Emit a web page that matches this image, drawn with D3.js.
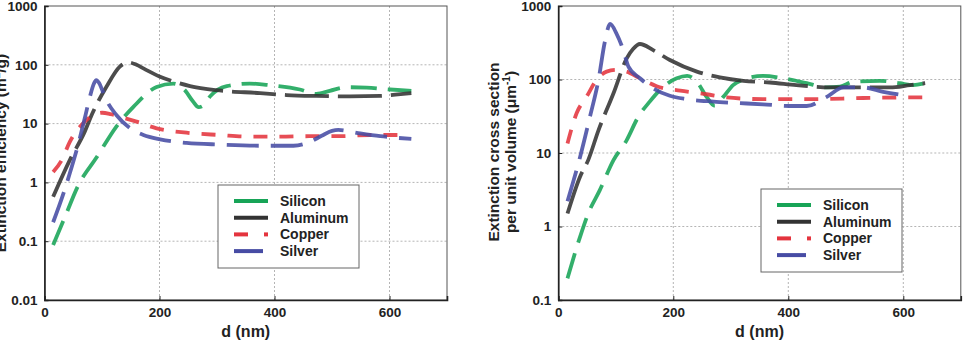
<!DOCTYPE html>
<html>
<head>
<meta charset="utf-8">
<script src="https://cdnjs.cloudflare.com/ajax/libs/d3/7.8.5/d3.min.js"></script>
<style>
body{margin:0;background:#fff;}
text{font-family:"Liberation Sans",Arial,sans-serif;font-weight:bold;fill:#222;}
</style>
</head>
<body>
<svg id="fig" width="964" height="342"></svg>
<script>
// series names and styles
var names = ["Silicon","Aluminum","Copper","Silver"];
var colors = ["#17a457","#333333","#e4343e","#474ca4"];
var dashes = ["26,11","44,9","14,12","32,12"];

var xTicks = [0,200,400,600];
var leftTicks = [0.01,0.1,1,10,100,1000];
var rightTicks = [0.1,1,10,100,1000];

// left panel: extinction efficiency (m2/g) vs d (nm)
var effSilicon = [[15,0.086],[35,0.25],[59,0.9],[91,2.7],[125,8.9],[155,19.4],[195,42],[224,48],[244,37],[258,24],[268,19],[278,21],[288,29],[317,43.5],[357,48],[392,45],[444,38],[473,32],[496,36],[525,41.5],[560,41],[601,38],[638,36]];
var effAluminum = [[15,0.57],[44,2.4],[70,7.3],[82,14],[108,42.6],[131,93],[146,110],[160,100],[172,87],[200,63],[224,52],[253,43.5],[299,37],[375,33],[421,30.6],[473,29.5],[531,29],[584,29.5],[610,31],[638,33]];
var effCopper = [[15,1.5],[30,2.4],[44,4.9],[62,8.9],[85,14],[100,15.3],[115,14.5],[131,13.1],[160,10.8],[195,8.3],[247,7.0],[305,6.4],[357,6.0],[410,6.0],[462,6.1],[514,6.1],[566,6.4],[627,6.4]];
var effSilver = [[15,0.21],[33,0.65],[44,1.43],[59,4.6],[70,12.3],[79,28.7],[86,48],[90,55],[95,49],[101,36],[107,26],[125,14],[149,8.3],[172,6.4],[201,5.4],[247,4.7],[305,4.4],[380,4.2],[433,4.2],[462,4.9],[482,6.2],[500,7.5],[511,7.8],[549,6.8],[584,6.1],[638,5.5]];

// right panel: extinction cross section per unit volume (um^-1)
var csSilicon = [[16,0.197],[38,0.73],[52,1.5],[72,3.1],[96,8],[119,15],[139,31],[159,50],[183,80],[206,104],[224,112],[241,93],[258,58],[272,44],[287,58],[304,84],[322,100],[356,112],[397,102],[432,89],[467,78],[490,80],[513,93],[559,96],[594,89],[617,84],[638,89]];
var csAluminum = [[16,1.5],[38,4.8],[52,8],[70,20.5],[96,65],[119,194],[130,260],[142,304],[165,251],[194,184],[241,128],[281,107],[322,96],[368,91],[414,84],[472,78],[519,78],[577,78],[612,84],[638,89]];
var csCopper = [[16,13.5],[32,35],[49,58],[67,100],[84,128],[101,135],[119,128],[142,104],[171,81],[212,70.5],[258,63],[293,57],[356,54],[444,54],[530,56],[606,57],[638,57]];
var csSilver = [[16,2.2],[38,8.9],[55,31],[70,100],[81,327],[90,570],[101,425],[113,251],[122,150],[142,104],[165,76],[194,60],[223,54],[270,50],[299,48.4],[356,46],[403,43.6],[432,43.6],[467,58],[496,78],[530,78],[565,68],[606,60]];

var svg = d3.select("#fig");

function drawPanel(opt){
    var x = d3.scaleLinear().domain([0,700]).range([opt.left, opt.left+402.5]);
    var y = d3.scaleLog().domain([opt.yTicks[0], 1000]).range([300, 6]);
    var g = svg.append("g");

    // grid
    g.selectAll(".hg").data(opt.yTicks.slice(1,-1)).enter().append("line")
        .attr("x1", x(0)).attr("x2", x(700))
        .attr("y1", function(d){ return y(d); }).attr("y2", function(d){ return y(d); })
        .attr("stroke","#b5b5b5").attr("stroke-dasharray","2,2");
    g.selectAll(".vg").data(xTicks.slice(1)).enter().append("line")
        .attr("x1", function(d){ return x(d); }).attr("x2", function(d){ return x(d); })
        .attr("y1", 6).attr("y2", 300)
        .attr("stroke","#b5b5b5").attr("stroke-dasharray","2,2");

    // frame top/right
    g.append("rect").attr("x", x(0)).attr("y", 6).attr("width", x(700)-x(0)).attr("height", 294)
        .attr("fill","none").attr("stroke","#555").attr("stroke-width",1);

    // curves
    var line = d3.line()
        .x(function(d){ return x(d[0]); })
        .y(function(d){ return y(d[1]); })
        .curve(d3.curveMonotoneX);
    opt.series.forEach(function(s,i){
        g.append("path").attr("d", line(s))
            .attr("fill","none")
            .attr("stroke", colors[i])
            .attr("stroke-width", 3.8)
            .attr("stroke-opacity", 0.88)
            .attr("stroke-dasharray", dashes[i]);
    });

    // axes
    var ax = g.append("g").attr("transform","translate(0,300)")
        .call(d3.axisBottom(x).tickValues(xTicks).tickSize(-4).tickPadding(7).tickFormat(d3.format("d")));
    var ay = g.append("g").attr("transform","translate("+x(0)+",0)")
        .call(d3.axisLeft(y).tickValues(opt.yTicks).tickSize(-4).tickPadding(7).tickFormat(function(d){ return String(d); }));
    [ax, ay].forEach(function(a){
        a.select(".domain").attr("stroke","#222").attr("stroke-width",1.6);
        a.selectAll(".tick line").attr("stroke","#222");
        a.selectAll("text").attr("font-size","13.5px").attr("font-weight","bold")
            .attr("font-family","'Liberation Sans', Arial, sans-serif").attr("fill","#222");
    });

    // x label
    g.append("text").attr("x", (x(0)+x(700))/2).attr("y", 337)
        .attr("text-anchor","middle").attr("font-size","16px").text("d (nm)");

    // legend
    var lx = opt.legend[0], ly = opt.legend[1];
    var lg = g.append("g").attr("transform","translate("+lx+","+ly+")");
    lg.append("rect").attr("width",141).attr("height",83)
        .attr("fill","#fff").attr("stroke","#666").attr("stroke-width",1);
    names.forEach(function(n,i){
        var cy = 16 + i*16.7;
        if(n=="Copper"){
            lg.append("line").attr("x1",16).attr("x2",30).attr("y1",cy).attr("y2",cy)
                .attr("stroke",colors[i]).attr("stroke-width",4);
            lg.append("line").attr("x1",46).attr("x2",50).attr("y1",cy).attr("y2",cy)
                .attr("stroke",colors[i]).attr("stroke-width",4);
        } else {
            lg.append("line").attr("x1",16).attr("x2", n=="Silver" ? 45 : 50).attr("y1",cy).attr("y2",cy)
                .attr("stroke",colors[i]).attr("stroke-width",4);
        }
        lg.append("text").attr("x",62).attr("y",cy+5).attr("font-size","14px").text(n);
    });
    return g;
}

drawPanel({left:44.5, yTicks:leftTicks, series:[effSilicon,effAluminum,effCopper,effSilver], legend:[218,185]});
drawPanel({left:558.3, yTicks:rightTicks, series:[csSilicon,csAluminum,csCopper,csSilver], legend:[761,189]});

// y labels
var yl = svg.append("text").attr("transform","translate(6,153) rotate(-90)")
    .attr("text-anchor","middle").attr("font-size","15.5px");
yl.append("tspan").text("Extinction efficiency (m");
yl.append("tspan").attr("font-size","10px").attr("dy","-6").text("2");
yl.append("tspan").attr("dy","6").text("/g)");

svg.append("text").attr("transform","translate(499,152) rotate(-90)")
    .attr("text-anchor","middle").attr("font-size","15.5px").text("Extinction cross section");
var yr = svg.append("text").attr("transform","translate(516,152) rotate(-90)")
    .attr("text-anchor","middle").attr("font-size","15.5px");
yr.append("tspan").text("per unit volume (\u03bcm");
yr.append("tspan").attr("font-size","10px").attr("dy","-6").text("-1");
yr.append("tspan").attr("dy","6").text(")");
</script>
</body>
</html>
